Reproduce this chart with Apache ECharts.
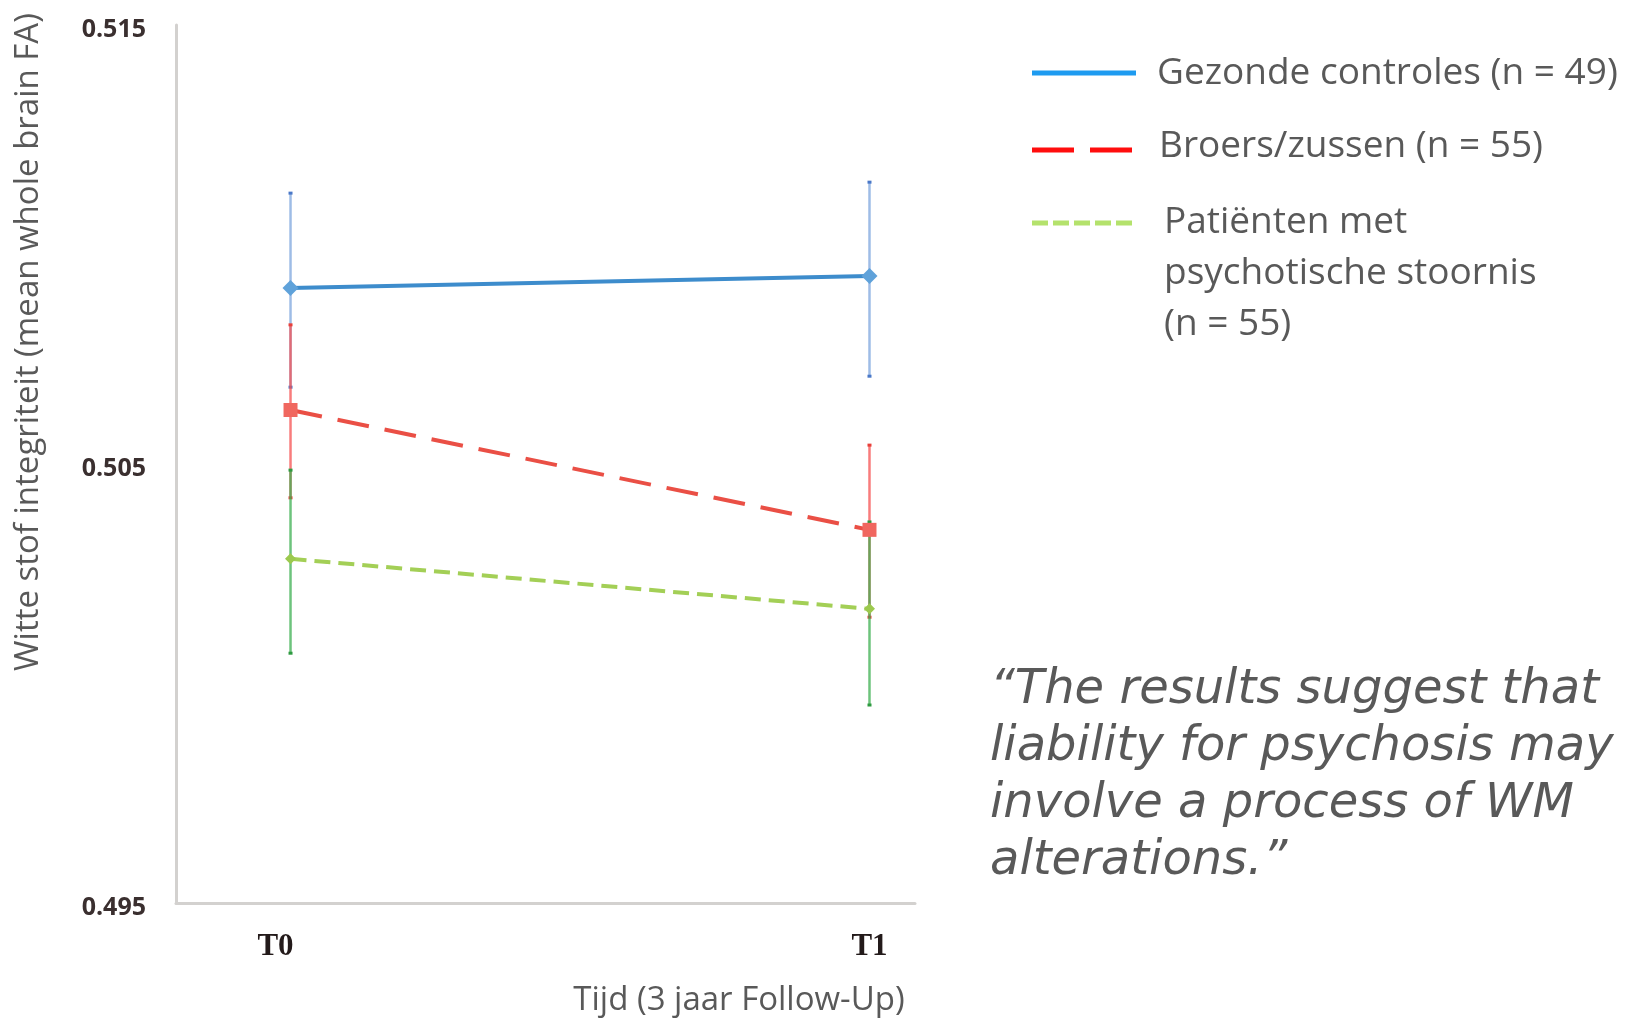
<!DOCTYPE html>
<html>
<head>
<meta charset="utf-8">
<script src="https://cdn.jsdelivr.net/npm/echarts@6/dist/echarts.min.js"></script>
<style>
  html, body { margin: 0; padding: 0; background: #ffffff; }
  #chart { width: 1627px; height: 1018px; }
</style>
</head>
<body>
<div id="chart"></div>
<script>
// Time points (x positions 0 and 1 on the value axis)
const timeLabels = ['T0', 'T1'];
const timeX = [0, 1];

// Y axis ticks
const yTicks = [0.495, 0.505, 0.515];

// Mean whole brain FA per group, with error bar bounds
const controlMean = [0.50901, 0.50928];
const controlLow = [0.50675, 0.50700];
const controlHigh = [0.51117, 0.51142];

const siblingMean = [0.50623, 0.50350];
const siblingLow = [0.50423, 0.50151];
const siblingHigh = [0.50817, 0.50543];

const patientMean = [0.50284, 0.50170];
const patientLow = [0.50069, 0.49951];
const patientHigh = [0.50486, 0.50368];

// Legend entries
const legendNames = [
  'Gezonde controles (n = 49)',
  'Broers/zussen (n = 55)',
  'Patiënten met\npsychotische stoornis\n(n = 55)'
];

const quoteText = '\u201CThe results suggest that\nliability for psychosis may\ninvolve a process of WM\nalterations.\u201D';

const yTitle = 'Witte stof integriteit (mean whole brain FA)';
const xTitle = 'Tijd (3 jaar Follow-Up)';

const groups = [
  { name: legendNames[0], mean: controlMean, low: controlLow, high: controlHigh,
    line: '#3d8ccc', width: 4, dash: 'solid', symbol: 'diamond', symbolSize: 16, marker: '#5fa2da',
    bar: 'rgba(125,165,222,0.75)', cap: '#4a78c8', legend: '#1e9bf0', legendDash: null },
  { name: legendNames[1], mean: siblingMean, low: siblingLow, high: siblingHigh,
    line: '#ea4f45', width: 4, dash: [32, 16], symbol: 'rect', symbolSize: 14, marker: '#f0675f',
    bar: 'rgba(245,80,80,0.75)', cap: '#e8403a', legend: '#ff0d0d', legendDash: [42, 16] },
  { name: legendNames[2], mean: patientMean, low: patientLow, high: patientHigh,
    line: '#a3cf56', width: 4, dash: [16, 8], symbol: 'diamond', symbolSize: 11, marker: '#9cc94e',
    bar: 'rgba(60,175,80,0.75)', cap: '#2e9a40', legend: '#b4e26c', legendDash: [16, 5] }
];

const series = [];
// error bars drawn first so the lines sit on top
groups.forEach(function (g) {
  series.push({
    type: 'custom',
    name: g.name + ' error',
    silent: true,
    z: 2,
    data: timeX.map(function (x, i) { return [x, g.low[i], g.high[i]]; }),
    renderItem: function (params, api) {
      const x = api.value(0);
      const lo = api.coord([x, api.value(1)]);
      const hi = api.coord([x, api.value(2)]);
      return {
        type: 'group',
        children: [
          { type: 'line', shape: { x1: lo[0], y1: lo[1], x2: hi[0], y2: hi[1] },
            style: { stroke: g.bar, lineWidth: 2.5 } },
          { type: 'rect', shape: { x: hi[0] - 2, y: hi[1] - 1.5, width: 4, height: 3 },
            style: { fill: g.cap } },
          { type: 'rect', shape: { x: lo[0] - 2, y: lo[1] - 1.5, width: 4, height: 3 },
            style: { fill: g.cap } }
        ]
      };
    }
  });
});
groups.forEach(function (g) {
  series.push({
    type: 'line',
    name: g.name,
    z: 3,
    data: timeX.map(function (x, i) { return [x, g.mean[i]]; }),
    symbol: g.symbol,
    symbolSize: g.symbolSize,
    showSymbol: true,
    lineStyle: { color: g.line, width: g.width, type: g.dash, cap: 'butt' },
    itemStyle: { color: g.marker, borderWidth: 0 },
    emphasis: { disabled: true },
    animation: false
  });
});

// Legend drawn as graphic elements so the wrapped third entry lines up with its first line
const legendLineHeight = 51;
const legendRows = [
  { lineY: 73, textX: 1157, textY: 73 },
  { lineY: 150, textX: 1159, textY: 146 },
  { lineY: 223, textX: 1164, textY: 222 }
];
const legendGraphics = [];
groups.forEach(function (g, i) {
  const r = legendRows[i];
  legendGraphics.push({
    type: 'line',
    shape: { x1: 1032, y1: r.lineY, x2: 1136, y2: r.lineY },
    style: { stroke: g.legend, lineWidth: 5, lineDash: g.legendDash, lineCap: 'butt' }
  });
  legendGraphics.push({
    type: 'text',
    x: r.textX,
    y: r.textY - legendLineHeight / 2,
    style: {
      text: g.name,
      fill: '#595959',
      font: '37px "Open Sans"',
      lineHeight: legendLineHeight,
      verticalAlign: 'top',
      align: 'left'
    }
  });
});

const chart = echarts.init(document.getElementById('chart'), null, { renderer: 'canvas' });

chart.setOption({
  animation: false,
  backgroundColor: '#ffffff',
  grid: { left: 176, right: 712, top: 25, bottom: 115, containLabel: false },
  xAxis: {
    type: 'value',
    min: -0.1978,
    max: 1.0786,
    splitLine: { show: false },
    axisLine: { show: true, onZero: false, lineStyle: { color: '#d3d1cf', width: 3 } },
    axisTick: { show: false },
    axisLabel: {
      customValues: timeX,
      margin: 28,
      formatter: function (v) {
        const i = timeX.indexOf(v);
        return i === 0 ? '{shift|' + timeLabels[i] + '}' : '{plain|' + timeLabels[i] + '}';
      },
      rich: {
        shift: { fontFamily: 'Liberation Serif', fontWeight: 'bold', fontSize: 31, color: '#231a1a', padding: [0, 30, 0, 0] },
        plain: { fontFamily: 'Liberation Serif', fontWeight: 'bold', fontSize: 31, color: '#231a1a' }
      }
    }
  },
  yAxis: {
    type: 'value',
    min: 0.495,
    max: 0.515,
    splitLine: { show: false },
    axisLine: { show: true, onZero: false, lineStyle: { color: '#d3d1cf', width: 3 } },
    axisTick: { show: false },
    axisLabel: {
      customValues: yTicks,
      margin: 30,
      formatter: function (v) { return v.toFixed(3); },
      fontFamily: 'Open Sans',
      fontWeight: 'bold',
      fontSize: 25,
      color: '#3a2f2f',
      verticalAlign: 'top',
      lineHeight: 10
    }
  },
  series: series,
  graphic: [
    {
      type: 'text',
      x: 29, y: 342,
      rotation: Math.PI / 2,
      style: {
        text: yTitle,
        fill: '#595959',
        font: '33px "Open Sans"',
        align: 'center',
        verticalAlign: 'middle'
      }
    },
    {
      type: 'text',
      x: 739, y: 1001,
      style: {
        text: xTitle,
        fill: '#595959',
        font: '33px "Open Sans"',
        align: 'center',
        verticalAlign: 'middle'
      }
    },
    {
      type: 'text',
      x: 990, y: 662,
      style: {
        text: quoteText,
        fill: '#595959',
        font: 'italic 200 48px "DejaVu Sans"',
        lineHeight: 57,
        align: 'left',
        verticalAlign: 'top'
      }
    }
  ].concat(legendGraphics)
});
</script>
</body>
</html>
